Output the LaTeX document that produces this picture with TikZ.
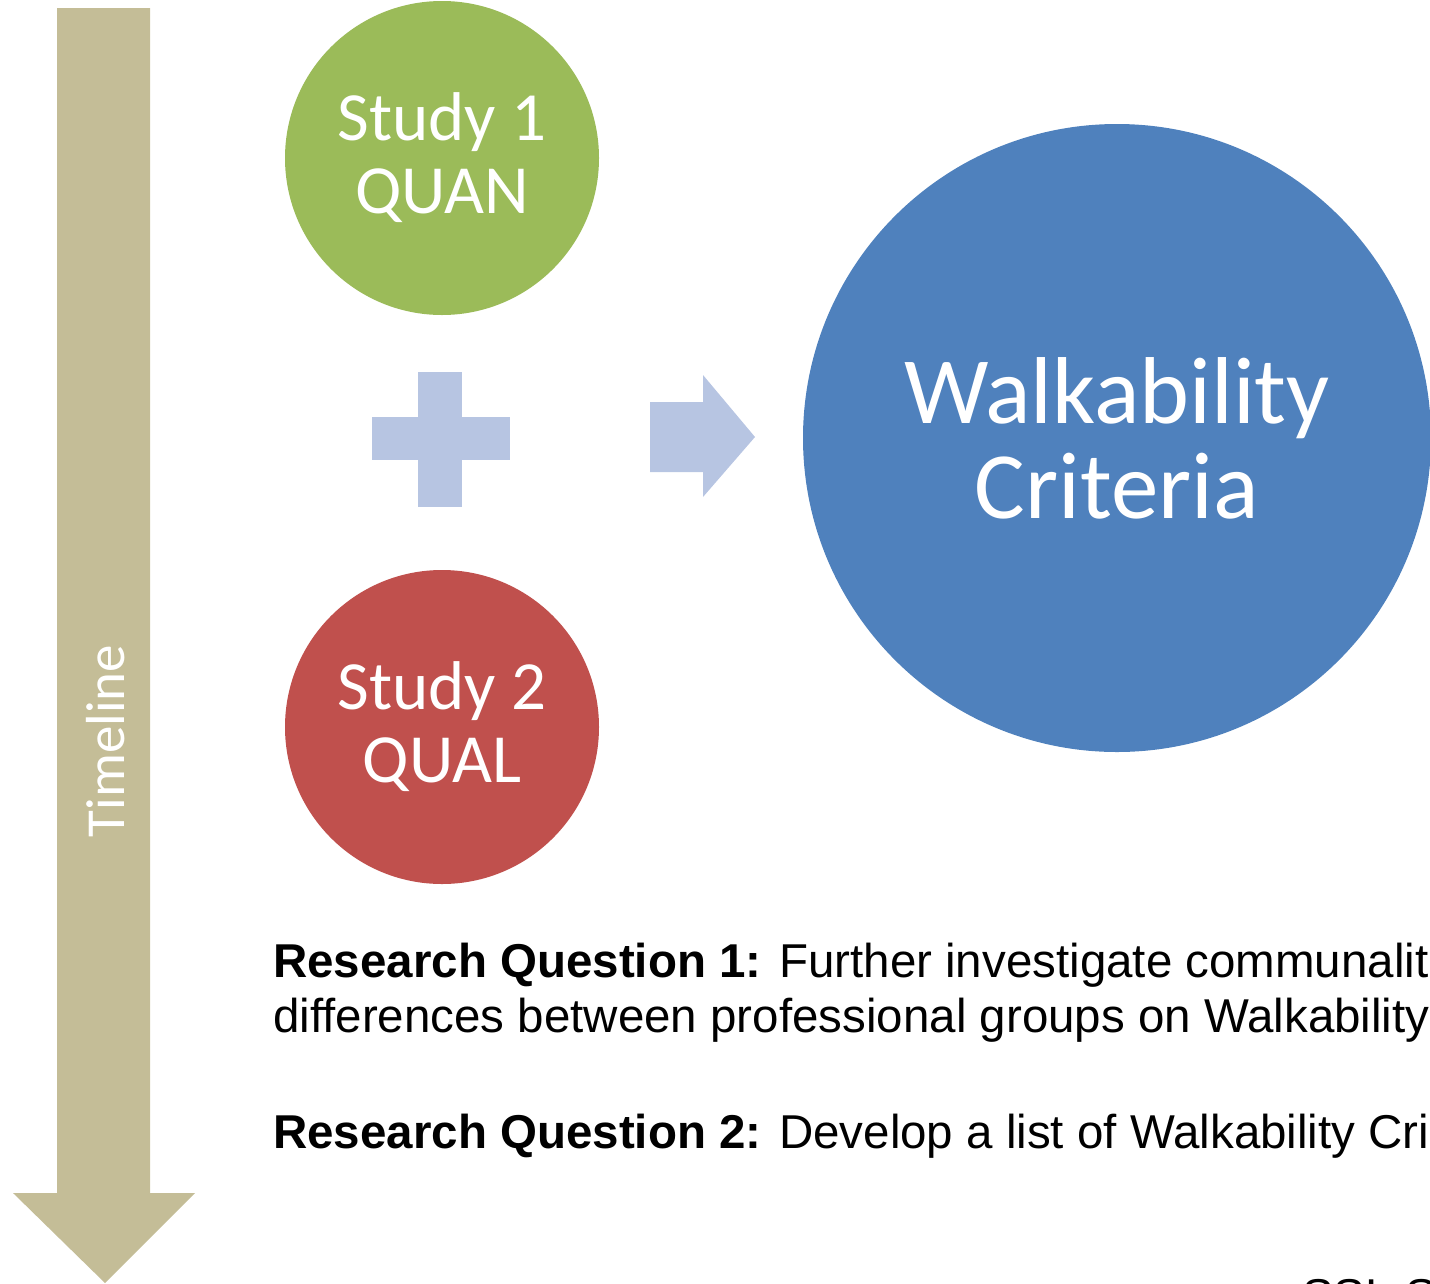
\documentclass[tikz,border=0pt]{standalone}
\usepackage{fontspec}
\setmainfont{Liberation Sans}
\newfontfamily\calibri{Carlito}
\usepackage{tikz}

\definecolor{timetan}{HTML}{C4BD97}
\definecolor{studygreen}{HTML}{9BBB59}
\definecolor{studyred}{HTML}{C0504D}
\definecolor{critblue}{HTML}{4F81BD}
\definecolor{markblue}{HTML}{B7C5E2}

\begin{document}
\begin{tikzpicture}[x=1pt,y=-1pt]
\useasboundingbox (0,0) rectangle (1430,1283);
\clip (0,0) rectangle (1430,1283);

% timeline arrow
\fill[timetan] (57,8) -- (150,8) -- (150,1193) -- (195,1193) -- (105,1283)
    -- (13,1193) -- (57,1193) -- cycle;
\node[rotate=90, inner sep=0pt, text=white, font=\calibri\fontsize{55}{60}\selectfont]
    (timeline) at (106,741) {Timeline};

\begin{scope}[every node/.style={circle, inner sep=0pt, text=white, align=center}]
    \node[fill=studygreen, minimum size=314pt, font=\calibri\fontsize{69}{73}\selectfont]
        (study1) at (442,158) {Study 1\\QUAN};
    \node[fill=studyred, minimum size=314pt, font=\calibri\fontsize{69}{73}\selectfont]
        (study2) at (442,727) {Study 2\\QUAL};
    \node[fill=critblue, minimum size=628pt, font=\calibri\fontsize{95}{95}\selectfont]
        (crit) at (1117,438) {Walkability\\Criteria};
\end{scope}

% plus and arrow
\fill[markblue] (372,417) rectangle (510,460);
\fill[markblue] (418,372) rectangle (462,507);
\fill[markblue] (650,402) -- (703,402) -- (703,375) -- (755,437) -- (703,497)
    -- (703,472) -- (650,472) -- cycle;

\begin{scope}[every node/.style={anchor=base west, inner sep=0pt, font=\fontsize{47.5}{55}\selectfont}]
    \node (rq1) at (273,977) {\textbf{Research Question 1:} Further investigate communalit};
    \node (rq1b) at (273,1032) {differences between professional groups on Walkability};
    \node (rq2) at (273,1148) {\textbf{Research Question 2:} Develop a list of Walkability Cri};
    \node (ssl) at (1302,1312) {SSL St};
\end{scope}

\end{tikzpicture}
\end{document}
